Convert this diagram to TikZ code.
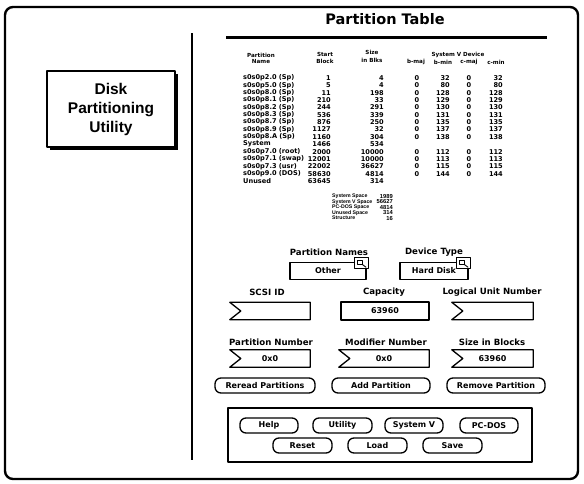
\documentclass[tikz,border=0pt]{standalone}
\usepackage{fontspec}
\setmainfont{DejaVu Sans}
\newfontfamily\helv{Liberation Sans}
\newcommand\setfs[1]{\fontsize{#1}{#1}\selectfont}

% entry field whose left edge is a ">" notch
\newcommand\chevfield[4]{%
  \node[fieldbox, minimum width=#3] (#1) at #2 {#4};
  \draw[fieldline] (#1.north west) -- ([xshift=11pt]#1.west) -- (#1.south west)
    -- (#1.south east) -- (#1.north east) -- cycle;}

% pop-up field with the small menu icon on its top right corner
\newcommand\popfield[4]{%
  \node[fieldbox, draw, line width=1.3pt, minimum width=#3] (#1) at #2 {#4};
  \draw[line width=1.1pt, fill=white] ([xshift=-12pt,yshift=4pt]#1.north east)
    rectangle ([xshift=2pt,yshift=-7pt]#1.north east);
  \draw[line width=0.9pt] ([xshift=-9pt,yshift=1.5pt]#1.north east)
    rectangle ([xshift=-4.5pt,yshift=-2.5pt]#1.north east);
  \draw[line width=0.9pt] ([xshift=-4.5pt,yshift=-2.5pt]#1.north east)
    -- ([xshift=-0.5pt,yshift=-5.5pt]#1.north east);}

\begin{document}
\begin{tikzpicture}[x=1pt,y=-1pt,line join=round,
  lbl/.style={inner sep=0pt,font=\bfseries\setfs{8.6}},
  cell/.style={inner sep=0pt,font=\bfseries\setfs{6.6}},
  hdr/.style={inner sep=0pt,font=\bfseries\setfs{5.6}},
  sumlab/.style={inner sep=0pt,font=\helv\bfseries\setfs{5.2}},
  sumnum/.style={inner sep=0pt,font=\helv\bfseries\setfs{5.8}},
  btn/.style={draw,line width=1.3pt,rounded corners=6pt,minimum height=15pt,
    inner sep=0pt,font=\bfseries\setfs{8}},
  fieldbox/.style={minimum height=17pt,inner sep=0pt,font=\bfseries\setfs{8}},
  fieldline/.style={line width=1.3pt}]

\fill[white] (0,0) rectangle (584,483);
\useasboundingbox (0,0) rectangle (584,483);

% window frame and divider
\draw[line width=2.4pt,rounded corners=8pt] (5,7) rectangle (578,479);
\draw[line width=2pt] (192,33) -- (192,460);

% utility name box with drop shadow
\fill (50,74) rectangle (178,150);
\node[draw,fill=white,line width=1.3pt,minimum width=128pt,minimum height=76pt,
  inner sep=0pt,align=center,font=\helv\bfseries\fontsize{15.5}{19}\selectfont]
  (util) at (111,109) {Disk\\Partitioning\\Utility};

% title
\node[font=\bfseries\setfs{14.5},inner sep=0pt] (ttl) at (385,19) {Partition Table};
\draw[line width=3pt] (226,37) -- (547,37);

% table headings
\node[hdr] (hPart) at (261,55) {Partition};
\node[hdr] (hName) at (261,61.5) {Name};
\node[hdr] (hStart) at (325,54) {Start};
\node[hdr] (hBlock) at (325,61) {Block};
\node[hdr] (hSize) at (372,52.5) {Size};
\node[hdr] (hBlks) at (372,60.5) {in Blks};
\node[hdr] (hDev) at (458,55) {System V Device};
\node[hdr] (hbmaj) at (416,62) {b-maj};
\node[hdr] (hbmin) at (443,62) {b-min};
\node[hdr] (hcmaj) at (469,62) {c-maj};
\node[hdr] (hcmin) at (496,62) {c-min};

% table rows
\foreach \nm/\st/\sz/\bmj/\bmn/\cmj/\cmn [count=\i from 0] in {
  {s0s0p2.0 (Sp)}/1/4/0/32/0/32,
  {s0s0p5.0 (Sp)}/5/4/0/80/0/80,
  {s0s0p8.0 (Sp)}/11/198/0/128/0/128,
  {s0s0p8.1 (Sp)}/210/33/0/129/0/129,
  {s0s0p8.2 (Sp)}/244/291/0/130/0/130,
  {s0s0p8.3 (Sp)}/536/339/0/131/0/131,
  {s0s0p8.7 (Sp)}/876/250/0/135/0/135,
  {s0s0p8.9 (Sp)}/1127/32/0/137/0/137,
  {s0s0p8.A (Sp)}/1160/304/0/138/0/138,
  {System}/1466/534////,
  {s0s0p7.0 (root)}/2000/10000/0/112/0/112,
  {s0s0p7.1 (swap)}/12001/10000/0/113/0/113,
  {s0s0p7.3 (usr)}/22002/36627/0/115/0/115,
  {s0s0p9.0 (DOS)}/58630/4814/0/144/0/144,
  {Unused}/63645/314////}{
  \pgfmathsetmacro\yy{78+7.36*\i}
  \node[cell,anchor=west] (nm\i) at (243,\yy) {\nm};
  \node[cell,anchor=east] (st\i) at (331,\yy) {\st};
  \node[cell,anchor=east] (sz\i) at (384,\yy) {\sz};
  \node[cell] (bj\i) at (417,\yy) {\bmj};
  \node[cell,anchor=east] (bn\i) at (450,\yy) {\bmn};
  \node[cell] (cj\i) at (469,\yy) {\cmj};
  \node[cell,anchor=east] (cn\i) at (503,\yy) {\cmn};
}

% space summary
\foreach \lab/\num [count=\k from 0] in {System Space/1989,System V Space/56627,
    PC-DOS Space/4814,Unused Space/314,Structure/16}{
  \pgfmathsetmacro\yy{196.5+5.4*\k}
  \node[sumlab,anchor=west] (sl\k) at (332,\yy) {\lab};
  \node[sumnum,anchor=east] (sn\k) at (393,\yy) {\num};
}

% pop-up fields
\node[lbl] (lPN) at (329,252.5) {Partition Names};
\node[lbl] (lDT) at (434,252.5) {Device Type};
\popfield{pnames}{(328,271)}{76pt}{Other}
\popfield{dtype}{(434,271)}{68pt}{Hard Disk}

% second row of fields
\node[lbl] (lSC) at (267,292) {SCSI ID};
\node[lbl] (lCap) at (384,292) {Capacity};
\node[lbl] (lLU) at (492,292) {Logical Unit Number};
\chevfield{scsi}{(270,311)}{80pt}{}
\node[fieldbox,draw,line width=1.3pt,minimum width=88pt,minimum height=18pt]
  (cap) at (385,311) {63960};
\chevfield{lun}{(492.5,311)}{81pt}{}

% third row of fields
\node[lbl] (lPNo) at (271,342) {Partition Number};
\node[lbl] (lMod) at (386,342) {Modifier Number};
\node[lbl] (lSB) at (492,342) {Size in Blocks};
\chevfield{pno}{(270,358.5)}{80pt}{0x0}
\chevfield{mod}{(384,358.5)}{90pt}{0x0}
\chevfield{sib}{(492.5,358.5)}{81pt}{63960}

% partition buttons
\node[btn,minimum width=100pt] (reread) at (265,385.5) {Reread Partitions};
\node[btn,minimum width=98pt] (addp) at (381,385.5) {Add Partition};
\node[btn,minimum width=98pt] (remp) at (496,385.5) {Remove Partition};

% command panel
\node[draw,line width=1.4pt,minimum width=304pt,minimum height=54pt,inner sep=0pt]
  (panel) at (380,435) {};
\node[btn,minimum width=58pt] (help) at (269,425.5) {Help};
\node[btn,minimum width=59pt] (utilb) at (342.5,425.5) {Utility};
\node[btn,minimum width=58pt] (sysv) at (414,425.5) {System V};
\node[btn,minimum width=58pt] (pcdos) at (489,425.5) {PC-DOS};
\node[btn,minimum width=59pt] (reset) at (302.5,445.5) {Reset};
\node[btn,minimum width=59pt] (load) at (377.5,445.5) {Load};
\node[btn,minimum width=59pt] (save) at (452.5,445.5) {Save};
\end{tikzpicture}
\end{document}
